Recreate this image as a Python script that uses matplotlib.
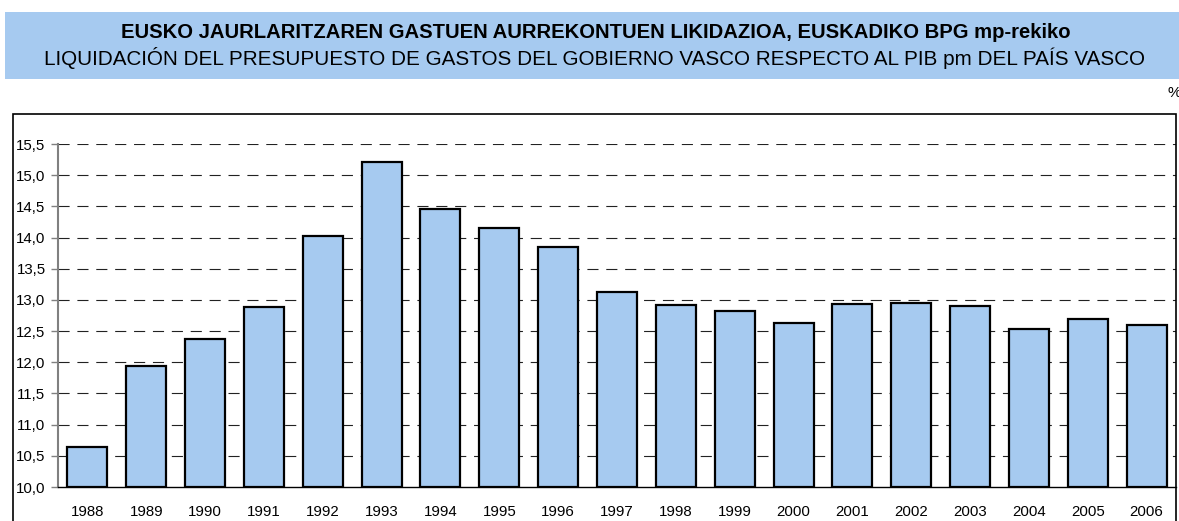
import matplotlib
matplotlib.use("Agg")
import matplotlib.pyplot as plt
from matplotlib.patches import Rectangle

years = ["1988", "1989", "1990", "1991", "1992", "1993", "1994", "1995", "1996", "1997",
         "1998", "1999", "2000", "2001", "2002", "2003", "2004", "2005", "2006"]
values = [10.64, 11.94, 12.38, 12.89, 14.02, 15.21, 14.45, 14.16, 13.85, 13.13,
          12.92, 12.82, 12.63, 12.93, 12.95, 12.90, 12.54, 12.70, 12.59]
yticks = [10.0, 10.5, 11.0, 11.5, 12.0, 12.5, 13.0, 13.5, 14.0, 14.5, 15.0, 15.5]
title1 = "EUSKO JAURLARITZAREN GASTUEN AURREKONTUEN LIKIDAZIOA, EUSKADIKO BPG mp-rekiko"
title2 = "LIQUIDACIÓN DEL PRESUPUESTO DE GASTOS DEL GOBIERNO VASCO RESPECTO AL PIB pm DEL PAÍS VASCO"

plt.rcParams['font.family'] = ['Liberation Sans', 'DejaVu Sans']
W, H = 1179, 521
fig = plt.figure(figsize=(W / 100, H / 100), dpi=100)
BLUE = "#A6CAF0"

def fx(px):
    return px / W

def fy(py):
    return 1 - py / H

# Title box
fig.patches.append(Rectangle((fx(5), fy(79)), fx(1180) - fx(5), fy(12) - fy(79),
                             transform=fig.transFigure, facecolor=BLUE, edgecolor="none"))
fig.text(fx(596), fy(38), title1, ha="center", va="baseline", fontsize=14.6, fontweight="bold")
fig.text(fx(595), fy(65), title2, ha="center", va="baseline", fontsize=14.85)
fig.text(fx(1167), fy(93), "%", ha="left", va="center", fontsize=11)

# Outer frame
fig.patches.append(Rectangle((fx(13), fy(530)), fx(1176) - fx(13), fy(114) - fy(530),
                             transform=fig.transFigure, facecolor="none", edgecolor="black",
                             linewidth=1.2))

ax = fig.add_axes([fx(58), fy(487), fx(1176) - fx(58), fy(144) - fy(487)])
x = list(range(len(years)))
ax.bar(x, [v - 10 for v in values], bottom=10, width=0.68, color=BLUE,
       edgecolor="black", linewidth=1.6, zorder=3)
ax.set_xlim(-0.5, len(years) - 0.5)
ax.set_ylim(10, 15.5)
ax.set_yticks(yticks)
ax.set_yticklabels([f"{t:.1f}".replace(".", ",") for t in yticks], fontsize=10.8)
ax.set_xticks(x)
ax.set_xticklabels(years, fontsize=10.8)
ax.tick_params(axis="x", length=0, pad=13)
ax.tick_params(axis="y", length=5, width=1, color="#808080", pad=4)
for t in yticks[1:]:
    ax.axhline(t, color="#222222", linewidth=0.8, dashes=(10, 7), zorder=1)
for s in ["top", "right"]:
    ax.spines[s].set_visible(False)
ax.spines["left"].set_color("#808080")
ax.spines["left"].set_linewidth(1.5)
ax.spines["bottom"].set_color("black")
ax.spines["bottom"].set_linewidth(1)
ax.set_facecolor("none")

fig.savefig("out.png", dpi=100)
